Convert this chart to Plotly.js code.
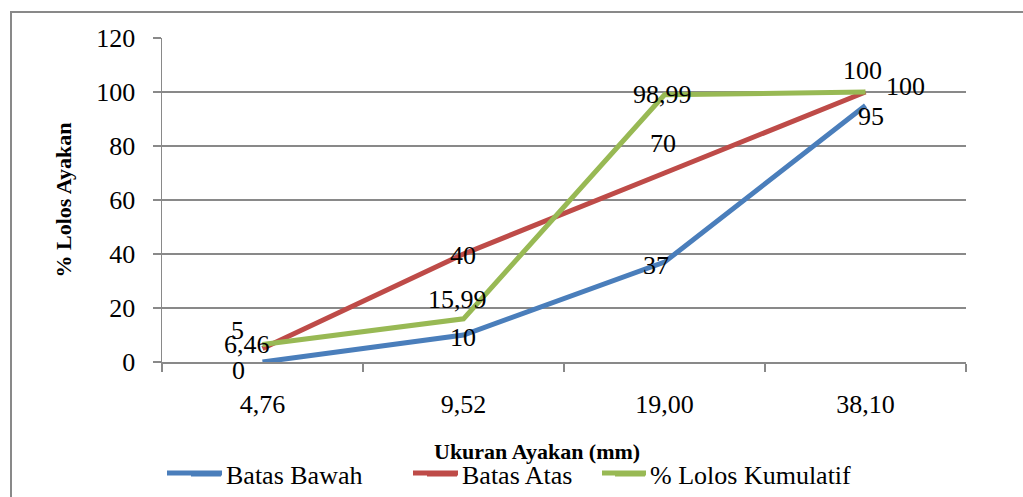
<!DOCTYPE html>
<html>
<head>
<meta charset="utf-8">
<script src="https://cdn.plot.ly/plotly-3.0.1.min.js"></script>
<style>
  html, body { margin: 0; padding: 0; background: #fff; }
  #wrap { position: relative; width: 1023px; height: 497px; }
  #chart { width: 1023px; height: 497px; }
  #frame { position: absolute; left: 10px; top: 11px; right: 0; bottom: 0;
           border-top: 2px solid #898989; border-left: 2px solid #898989; pointer-events: none; }
</style>
</head>
<body>
<div id="wrap">
  <div id="chart"></div>
  <div id="frame"></div>
</div>
<script>
// ---- data ----
const categories = ["4,76", "9,52", "19,00", "38,10"];
const batasBawah = [0, 10, 37, 95];
const batasAtas = [5, 40, 70, 100];
const lolosKumulatif = [6.46, 15.99, 98.99, 100];
const seriesNames = ["Batas Bawah", "Batas Atas", "% Lolos Kumulatif"];
const xTitle = "Ukuran Ayakan (mm)";
const yTitle = "% Lolos Ayakan";

// ---- styles ----
const colors = ["#4A7EBB", "#BE4B48", "#98B954"];
const FONT = "Liberation Serif";
// plot area in px: left 162, right 966, top 38, bottom 362
const PL = 162, PW = 804, PB = 362, PH = 324;
const px2x = p => (p - PL) / PW;
const px2y = p => (PB - p) / PH;
// label offsets in pixels [dx, dyDown] for each series point
const labelOffsets = [
  [[-24, 8], [-1, 2], [-9, 3], [5, 11]],
  [[-25, -18], [-1, 1], [-2, -30], [40, -6]],
  [[-16, 0], [-6, -19], [-2, 0], [-3, -22]]
];
// legend entries: text start px, line start px
const legendTextStart = [226, 462, 650];
const legendLineStart = [167, 413, 602];
const legendY = 474;

const allSeries = [batasBawah, batasAtas, lolosKumulatif];
const legendIds = ["legend", "legend2", "legend3"];
const fmt = v => String(v).replace(".", ",");

const traces = allSeries.map((vals, i) => ({
  type: "scatter",
  mode: "lines",
  x: categories,
  y: vals,
  name: seriesNames[i],
  legend: legendIds[i],
  line: { color: colors[i], width: 5 },
  hoverinfo: "x+y+name"
}));

const annotations = [];
allSeries.forEach((vals, i) => {
  vals.forEach((v, j) => {
    annotations.push({
      x: categories[j], y: v, xref: "x", yref: "y",
      text: fmt(v), showarrow: false,
      xshift: labelOffsets[i][j][0], yshift: -labelOffsets[i][j][1],
      font: { family: FONT, size: 26, color: "#000" }
    });
  });
});
annotations.push({
  x: px2x(537), y: px2y(452), xref: "paper", yref: "paper",
  text: "<b>" + xTitle + "</b>", showarrow: false,
  xanchor: "center", yanchor: "middle",
  font: { family: FONT, size: 22, color: "#000" }
});

// extend the short legend line samples to the longer length of the original
const shapes = legendLineStart.map((s, i) => ({
  type: "line", xref: "paper", yref: "paper",
  x0: px2x(s), x1: px2x(legendTextStart[i] - 4),
  y0: px2y(legendY - 1), y1: px2y(legendY - 1),
  line: { color: colors[i], width: 5 }
}));

const layout = {
  width: 1023, height: 497,
  margin: { l: PL, r: 1023 - PL - PW, t: 38, b: 497 - PB, autoexpand: false },
  paper_bgcolor: "#fff", plot_bgcolor: "#fff",
  font: { family: FONT, size: 26, color: "#000" },
  showlegend: true,
  xaxis: {
    type: "category",
    range: [-0.5, 3.5],
    showgrid: false,
    showline: true, linecolor: "#898989", linewidth: 1.5,
    ticks: "outside", tickson: "boundaries", ticklen: 8, tickcolor: "#898989", tickwidth: 1.5,
    ticklabelstandoff: 18,
    tickfont: { family: FONT, size: 26, color: "#000" },
    fixedrange: true
  },
  yaxis: {
    range: [0, 120], dtick: 20, tick0: 0,
    showgrid: true, gridcolor: "#898989", gridwidth: 1.5,
    showline: true, linecolor: "#898989", linewidth: 1.5,
    zeroline: false,
    ticks: "outside", ticklen: 8, tickcolor: "#898989", tickwidth: 1.5,
    ticklabelstandoff: 12,
    tickfont: { family: FONT, size: 26, color: "#000" },
    title: { text: "<b>" + yTitle + "</b>", font: { family: FONT, size: 22, color: "#000" }, standoff: 18 },
    fixedrange: true
  },
  shapes: shapes,
  annotations: annotations
};
legendIds.forEach((id, i) => {
  layout[id] = {
    orientation: "h", x: px2x(legendTextStart[i] - 40), xanchor: "left",
    y: px2y(legendY), yanchor: "middle",
    font: { family: FONT, size: 26, color: "#000" },
    bgcolor: "rgba(0,0,0,0)", borderwidth: 0, itemwidth: 30
  };
});

Plotly.newPlot("chart", traces, layout, { displayModeBar: false, staticPlot: true });
</script>
</body>
</html>
